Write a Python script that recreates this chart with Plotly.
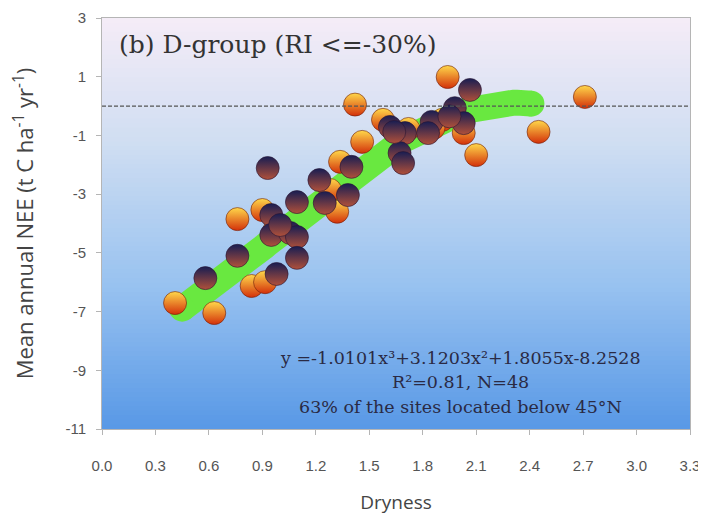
import numpy as np
import plotly.graph_objects as go

# ---- data ----
x_orange = [0.41, 0.63, 0.76, 0.84, 0.915, 0.90, 1.32, 1.28, 1.336, 1.42, 1.46, 1.577,
            1.72, 1.91, 1.94, 2.03, 1.97, 2.10, 2.45, 2.71, 0.97, 1.86]
y_orange = [-6.71, -7.05, -3.85, -6.13, -6.0, -3.54, -3.6, -2.86, -1.9, 0.05, -1.22, -0.47,
            -0.78, -0.47, 0.99, -0.92, -0.28, -1.67, -0.88, 0.31, -4.2, -0.75]
x_dark = [0.58, 0.76, 0.98, 0.95, 1.094, 0.95, 1.055, 1.094, 1.094, 0.93, 1.22, 1.25,
          1.38, 1.40, 1.616, 1.70, 1.67, 1.69, 1.85, 1.83, 2.065, 1.98, 2.03, 1.0, 1.64, 1.95]
y_dark = [-5.86, -5.1, -5.72, -3.71, -3.27, -4.39, -4.32, -4.46, -5.17, -2.11, -2.52, -3.3,
          -3.03, -2.07, -0.71, -0.92, -1.6, -1.94, -0.54, -0.92, 0.55, -0.07, -0.58, -4.05, -0.88, -0.35]

fit_coef = [-1.0101, 3.1203, 1.8055, -8.2528]   # cubic fit from the chart
fit_xmin, fit_xmax = 0.45, 2.41

x_ticks = [0.0, 0.3, 0.6, 0.9, 1.2, 1.5, 1.8, 2.1, 2.4, 2.7, 3.0, 3.3]
y_ticks = [3, 1, -1, -3, -5, -7, -9, -11]

title_text = "(b) D-group (RI <=-30%)"
eq_lines = ["y =-1.0101x³+3.1203x²+1.8055x-8.2528",
            "R²=0.81, N=48",
            "63% of the sites located below 45°N"]
eq_x = 2.01
eq_y = [-8.58, -9.4, -10.25]

# ---- figure ----
fx = np.linspace(fit_xmin, fit_xmax, 120)
fy = np.polyval(fit_coef, fx)

green = "#69e840"
fig = go.Figure()
fig.add_trace(go.Scatter(x=fx, y=fy, mode="lines",
                         line=dict(color=green, width=26), hoverinfo="skip"))
fig.add_trace(go.Scatter(x=[fx[0], fx[-1]], y=[fy[0], fy[-1]], mode="markers",
                         marker=dict(color=green, size=26, line=dict(width=0)),
                         hoverinfo="skip"))
fig.add_trace(go.Scatter(x=x_orange, y=y_orange, mode="markers",
                         marker=dict(size=23, color="#ffd84a",
                                     gradient=dict(type="vertical", color="#d3300a"),
                                     line=dict(width=1, color="rgba(110,30,10,0.6)"))))
fig.add_trace(go.Scatter(x=x_dark, y=y_dark, mode="markers",
                         marker=dict(size=23, color="#181d52",
                                     gradient=dict(type="vertical", color="#b0503a"),
                                     line=dict(width=1, color="rgba(40,20,50,0.6)"))))

# gradient background bands
def lerp(c1, c2, t):
    return tuple(int(round(a + (b - a) * t)) for a, b in zip(c1, c2))

stops = [(0.0, (245, 236, 247)), (0.3, (208, 222, 242)), (0.65, (152, 194, 240)), (1.0, (88, 152, 230))]
n = 90
shapes = []
for i in range(n):
    t = (i + 0.5) / n
    for j in range(len(stops) - 1):
        if stops[j][0] <= t <= stops[j + 1][0]:
            tt = (t - stops[j][0]) / (stops[j + 1][0] - stops[j][0])
            c = lerp(stops[j][1], stops[j + 1][1], tt)
            break
    y1 = 1 - i / n
    y0 = 1 - (i + 1) / n - 0.002
    shapes.append(dict(type="rect", xref="paper", yref="paper", x0=0, x1=1, y0=max(y0, 0), y1=y1,
                       fillcolor="rgb(%d,%d,%d)" % c, line=dict(width=0), layer="below"))
shapes.append(dict(type="line", xref="paper", yref="y", x0=0, x1=1, y0=0, y1=0,
                   line=dict(color="#555555", width=1.2, dash="4px,2px"), layer="above"))

annotations = [dict(xref="paper", yref="paper", x=0.025, y=0.935, xanchor="left", yanchor="middle",
                    text=title_text, showarrow=False,
                    font=dict(family="DejaVu Serif", size=25, color="#333333"))]
for k, line in enumerate(eq_lines):
    annotations.append(dict(xref="x", yref="y", x=eq_x, y=eq_y[k], text=line, showarrow=False,
                            xanchor="center", yanchor="middle",
                            font=dict(family="DejaVu Serif", size=17.5, color="#2a2a44")))

# the page body adds an 8px offset, so the figure is sized to fit the 706x527 window
fig.update_layout(
    width=698, height=519,
    margin=dict(l=94, r=16, t=10, b=98),
    paper_bgcolor="white", plot_bgcolor="rgba(0,0,0,0)",
    showlegend=False,
    shapes=shapes, annotations=annotations,
    xaxis=dict(range=[0, 3.3], tickvals=x_ticks, ticktext=["%.1f" % v for v in x_ticks],
               automargin=False,
               showgrid=False, zeroline=False, showline=True, linecolor="#b5b5b5", mirror=True,
               ticks="outside", ticklen=5, tickcolor="#b5b5b5", ticklabelstandoff=18,
               tickfont=dict(family="Liberation Sans", size=15, color="#555555"),
               title=dict(text="Dryness", font=dict(family="Open Sans", size=19, color="#444444"), standoff=22)),
    yaxis=dict(range=[-11, 3], tickvals=y_ticks, ticktext=[str(v) for v in y_ticks],
               automargin=False,
               showgrid=False, zeroline=False, showline=True, linecolor="#b5b5b5", mirror=True,
               ticks="outside", ticklen=5, tickcolor="#b5b5b5", ticklabelstandoff=7,
               tickfont=dict(family="Liberation Sans", size=15, color="#555555"),
               title=dict(text="Mean annual NEE (t C ha<sup>-1</sup> yr<sup>-1</sup>)",
                          font=dict(family="Open Sans", size=22, color="#444444"), standoff=28)),
)

fig.write_html("out.html")
